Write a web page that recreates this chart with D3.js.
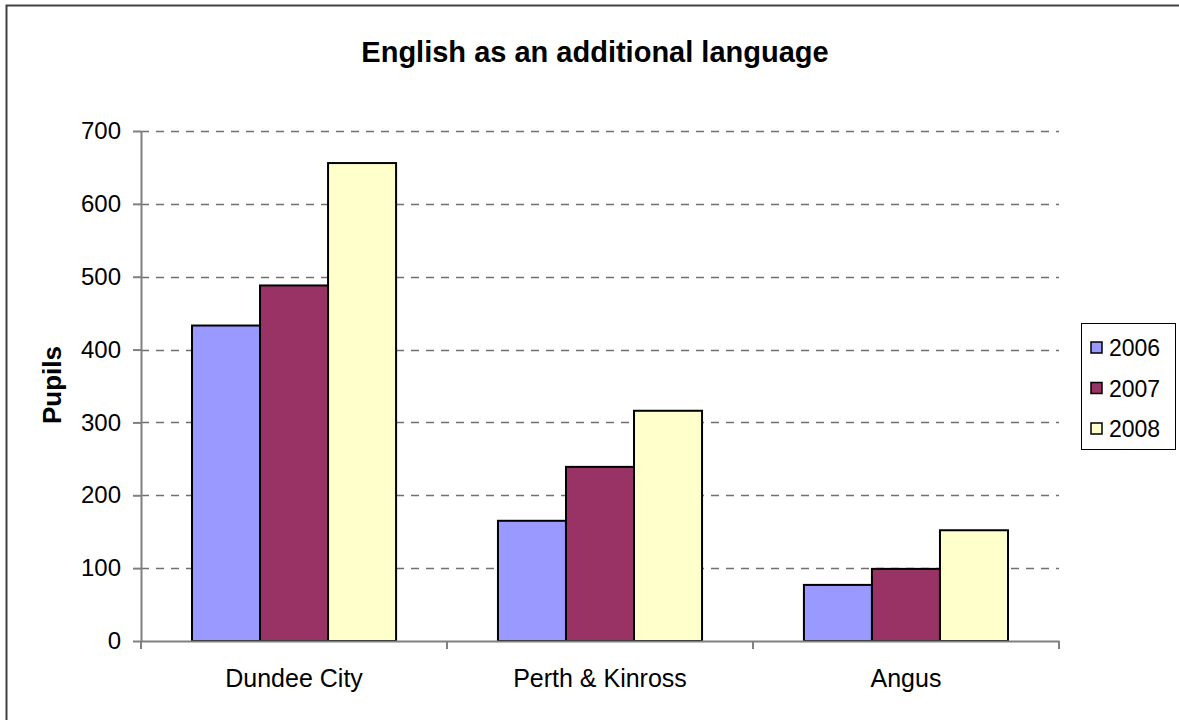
<!DOCTYPE html>
<html>
<head>
<meta charset="utf-8">
<script src="https://cdn.jsdelivr.net/npm/d3@7"></script>
<style>
  body { margin: 0; background: #fff; }
  text { font-family: "Liberation Sans", Arial, sans-serif; fill: #000; }
</style>
</head>
<body>
<script>
// Chart data
var categories = ["Dundee City", "Perth & Kinross", "Angus"]
var years = ["2006", "2007", "2008"]
var values2006 = [433, 165, 77]
var values2007 = [488, 239, 99]
var values2008 = [656, 316, 152]
var yTicks = [0, 100, 200, 300, 400, 500, 600, 700]

var colors = ["#9999FF", "#993366", "#FFFFCC"]
var series = [values2006, values2007, values2008]

var width = 1179, height = 720
var margin = {top: 131, right: 120, bottom: 79, left: 141}
var plotW = 1059 - margin.left, plotH = 641 - margin.top

var svg = d3.select("body").append("svg")
            .attr("width", width)
            .attr("height", height)

// Outer frame
svg.append("rect")
   .attr("x", 6.5).attr("y", 5.5)
   .attr("width", width).attr("height", height)
   .attr("fill", "none")
   .attr("stroke", "#404040")
   .attr("stroke-width", 2)

var g = svg.append("g")
           .attr("transform", "translate(" + margin.left + "," + margin.top + ")")

var x0 = d3.scaleBand().domain(categories).range([0, plotW]).paddingInner(0.333).paddingOuter(0.1667)
var x1 = d3.scaleBand().domain(years).range([0, x0.bandwidth()])
var y = d3.scaleLinear().domain([0, 700]).range([plotH, 0])

// Gridlines
g.selectAll(".grid")
 .data(yTicks.filter(function(d){ return d > 0 }))
 .enter().append("line")
 .attr("x1", 0).attr("x2", plotW)
 .attr("y1", function(d){ return Math.round(y(d)) + 0.5 })
 .attr("y2", function(d){ return Math.round(y(d)) + 0.5 })
 .attr("stroke", "#707070")
 .attr("stroke-width", 1.5)
 .attr("stroke-dasharray", "8,7")

// Bars
var groups = g.selectAll(".cat")
              .data(categories)
              .enter().append("g")
              .attr("transform", function(d){ return "translate(" + x0(d) + ",0)" })

groups.selectAll("rect")
      .data(function(d, i){ return years.map(function(yr, j){ return {year: yr, value: series[j][i], j: j} }) })
      .enter().append("rect")
      .attr("x", function(d){ return x1(d.year) })
      .attr("y", function(d){ return y(d.value) })
      .attr("width", x1.bandwidth())
      .attr("height", function(d){ return plotH - y(d.value) })
      .attr("fill", function(d){ return colors[d.j] })
      .attr("stroke", "#000")
      .attr("stroke-width", 2)

// Y axis
var yAxis = g.append("g")
             .call(d3.axisLeft(y).tickValues(yTicks).tickSize(8).tickPadding(12).tickSizeOuter(0))
yAxis.select(".domain").attr("stroke", "#808080").attr("stroke-width", 2)
yAxis.selectAll(".tick line").attr("stroke", "#808080").attr("stroke-width", 2)
yAxis.selectAll("text").style("font-size", "24px")

// X axis
var xAxis = g.append("g")
             .attr("transform", "translate(0," + plotH + ")")
             .call(d3.axisBottom(x0).tickSize(0).tickPadding(28))
xAxis.select(".domain").attr("stroke", "#808080").attr("stroke-width", 2)
xAxis.selectAll("text").style("font-size", "25px")
xAxis.selectAll(".sep")
     .data([0, 1, 2, 3])
     .enter().append("line")
     .attr("x1", function(d){ return d * plotW / 3 })
     .attr("x2", function(d){ return d * plotW / 3 })
     .attr("y1", 0).attr("y2", 8)
     .attr("stroke", "#808080")
     .attr("stroke-width", 2)

// Title
svg.append("text")
   .attr("x", 595).attr("y", 62)
   .attr("text-anchor", "middle")
   .style("font-size", "29px")
   .style("font-weight", "bold")
   .text("English as an additional language")

// Y label
svg.append("text")
   .attr("transform", "translate(61,385) rotate(-90)")
   .attr("text-anchor", "middle")
   .style("font-size", "26px")
   .style("font-weight", "bold")
   .text("Pupils")

// Legend
var legend = svg.append("g").attr("transform", "translate(1081,323)")
legend.append("rect")
      .attr("x", 0.5).attr("y", 0.5)
      .attr("width", 94).attr("height", 126)
      .attr("fill", "#fff").attr("stroke", "#000")
var items = legend.selectAll(".item")
                  .data(years)
                  .enter().append("g")
                  .attr("transform", function(d, i){ return "translate(0," + (24 + i * 40.5) + ")" })
items.append("rect")
     .attr("x", 10).attr("y", -5)
     .attr("width", 11).attr("height", 11)
     .attr("fill", function(d, i){ return colors[i] })
     .attr("stroke", "#000").attr("stroke-width", 1.5)
items.append("text")
     .attr("x", 28).attr("y", 9)
     .style("font-size", "23px")
     .text(function(d){ return d })
</script>
</body>
</html>
